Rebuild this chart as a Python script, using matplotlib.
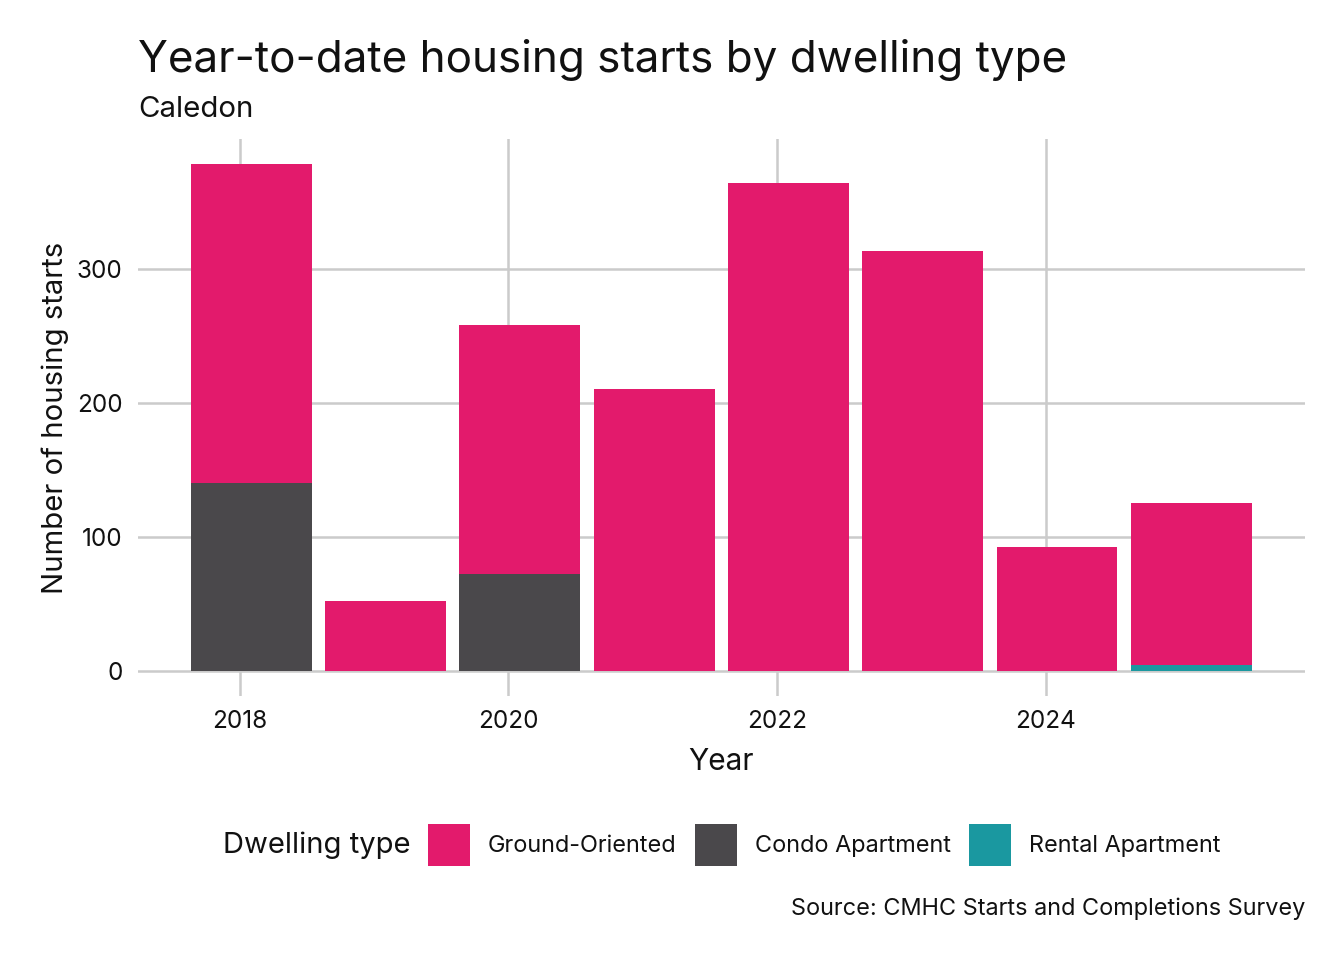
"""Caledon の年初来住宅着工件数(住宅タイプ別)の積み上げ棒グラフ。"""
from datetime import datetime

import matplotlib
import matplotlib.dates as mdates
import matplotlib.pyplot as plt
from matplotlib.patches import Patch

matplotlib.use("Agg")

plt.rcParams["font.family"] = ["Inter", "DejaVu Sans"]

years = [2018, 2019, 2020, 2021, 2022, 2023, 2024, 2025]
ground_oriented = [238, 52, 186, 210, 364, 313, 92, 121]
condo_apartment = [140, 0, 72, 0, 0, 0, 0, 0]
rental_apartment = [0, 0, 0, 0, 0, 0, 0, 4]

type_labels = ["Ground-Oriented", "Condo Apartment", "Rental Apartment"]
type_colors = ["#E31A6C", "#4A484B", "#1A98A0"]
tick_years = [2018, 2020, 2022, 2024]

GRID = "#CBCBCB"
TEXT = "#111111"

# 各年のデータは2月1日時点の年初来値として配置する
x = [mdates.date2num(datetime(y, 2, 1)) for y in years]
width = 0.9 * 365

fig = plt.figure(figsize=(13.44, 9.6), dpi=100)
ax = fig.add_axes([138 / 1344, 1 - 696 / 960, (1305 - 138) / 1344, (696 - 139) / 960])

# ggplotと同じく、下から Rental → Condo → Ground-Oriented の順に積む
bottom = [0] * len(years)
for values, color in [(rental_apartment, type_colors[2]),
                      (condo_apartment, type_colors[1]),
                      (ground_oriented, type_colors[0])]:
    ax.bar(x, values, width=width, bottom=bottom, color=color, linewidth=0, zorder=2)
    bottom = [b + v for b, v in zip(bottom, values)]

lo, hi = min(x) - width / 2, max(x) + width / 2
pad = (hi - lo) * 0.05
ax.set_xlim(lo - pad, hi + pad)
ymax = max(bottom)
ax.set_ylim(-ymax * 0.05, ymax * 1.05)

ax.set_xticks([mdates.date2num(datetime(y, 1, 1)) for y in tick_years])
ax.set_xticklabels([str(y) for y in tick_years])
ax.set_yticks([0, 100, 200, 300])

ax.grid(True, color=GRID, linewidth=1.8, zorder=0)
ax.set_axisbelow(True)
for spine in ax.spines.values():
    spine.set_visible(False)
ax.tick_params(length=0, labelsize=17.5, colors=TEXT)
ax.tick_params(axis="x", pad=10)
ax.tick_params(axis="y", pad=11)

ax.set_xlabel("Year", fontsize=21.5, color=TEXT, labelpad=11)
ax.set_ylabel("Number of housing starts", fontsize=21.1, color=TEXT, labelpad=6)

fig.text(138 / 1344, 1 - 72 / 960, "Year-to-date housing starts by dwelling type",
         fontsize=31.7, color=TEXT, va="baseline", ha="left")
fig.text(138 / 1344, 1 - 117 / 960, "Caledon",
         fontsize=21.2, color=TEXT, va="baseline", ha="left")

handles = [Patch(facecolor=c, edgecolor="none") for c in type_colors]
fig.legend(handles, type_labels, loc="center left", bbox_to_anchor=(428 / 1344, 1 - 845 / 960),
           ncol=3, frameon=False, fontsize=16.9, handlelength=1.79, handleheight=2.44,
           handletextpad=0.77, columnspacing=0.77, borderpad=0, borderaxespad=0,
           labelcolor=TEXT)
fig.text(410 / 1344, 1 - 845 / 960, "Dwelling type", fontsize=21, color=TEXT,
         ha="right", va="center")

fig.text(1305 / 1344, 1 - 909 / 960, "Source: CMHC Starts and Completions Survey",
         fontsize=16.9, color=TEXT, ha="right", va="center")

fig.savefig("out.png", dpi=100)
plt.close(fig)
